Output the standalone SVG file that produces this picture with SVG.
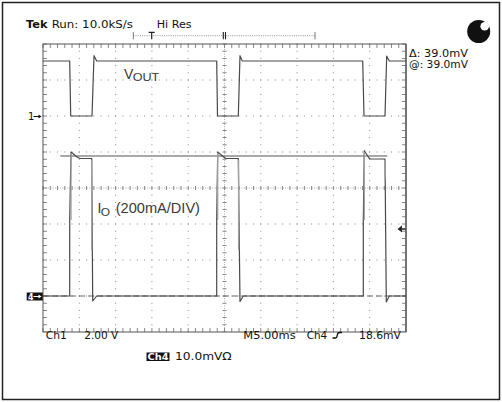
<svg xmlns="http://www.w3.org/2000/svg" width="502" height="402" viewBox="0 0 502 402">
  <style>
    .t { font-family: "DejaVu Sans", "Liberation Sans", sans-serif; font-size: 10px; fill: #111; }
    .lbl { font-family: "Liberation Sans", Arial, sans-serif; fill: #3a3a3a; }
    .dotx { stroke: #888; stroke-width: 1; stroke-dasharray: 1 6.26; fill: none; }
    .doty { stroke: #888; stroke-width: 1; stroke-dasharray: 1 6.2; fill: none; }
    .tickx { stroke: #888; stroke-width: 4; stroke-dasharray: 1 6.26; fill: none; }
    .ticky { stroke: #888; stroke-width: 4; stroke-dasharray: 1 6.2; fill: none; }
    .trace { fill: none; stroke: #4a4a4a; stroke-width: 1.2; stroke-linejoin: round; }
    .light { fill: none; stroke: #a0a0a0; stroke-width: 1.3; }
  </style>

  <!-- outer frame -->
  <rect id="frame" x="2.5" y="2.5" width="497" height="397" fill="#fff" stroke="#222" stroke-width="1.5"/>

  <!-- graticule -->
  <g id="graticule">
    <path class="doty" d="M79.3,43.5 V332 M115.6,43.5 V332 M151.9,43.5 V332 M188.2,43.5 V332 M260.8,43.5 V332 M297.1,43.5 V332 M333.4,43.5 V332 M369.7,43.5 V332"/>
    <path class="dotx" d="M42.5,80 H406 M42.5,116 H406 M42.5,152 H406 M42.5,224 H406 M42.5,260 H406 M42.5,296 H406"/>
    <path d="M43,188 H406 M224.5,44 V332" stroke="#aaa" stroke-width="1" stroke-dasharray="1 1.42" fill="none"/>
    <path class="tickx" d="M42.5,188 H406"/>
    <path class="ticky" d="M224.5,43.5 V332"/>
    <path class="tickx" d="M42.5,46 H406 M42.5,330 H406"/>
    <path class="ticky" d="M45,43.5 V332 M404,43.5 V332"/>
    <rect x="43" y="44" width="363" height="288" fill="none" stroke="#555" stroke-width="1"/>
    <path d="M406,44 V332" stroke="#666" stroke-width="1.5"/>
  </g>

  <!-- cursors -->
  <g id="cursors">
    <path d="M60.3,156 H387.3" stroke="#555" stroke-width="1.1" fill="none"/>
    <path d="M43,296 H406" stroke="#666" stroke-width="1.1" stroke-dasharray="6 3" fill="none"/>
  </g>

  <!-- traces -->
  <g id="traces">
    <path id="vout" class="trace" d="M43,61 H69.7 L70.7,116 H92 L94,55.7 L96.7,61 H216.7 L217.5,116 H238.3 L240,55.7 L242.3,61 H362.7 L364,116 H385 L386.7,56 L389.3,61 H406"/>
    <path id="io" class="trace" d="M43,296 H69.7 V220 L71,152 L77.3,157.3 L80,158.5 H91.7 L92.7,301 L96.7,296 H216.7 V220 L217.7,152 L224,157.3 L226,158.5 H238.3 L240,301.5 L243.3,296 H363.3 V220 L364.3,150.7 L369,158 L370,159 H385 L386.3,302 L389.3,296 H406"/>
    <path class="light" d="M71,220 V153 M91.7,160 V250 M217.7,220 V153 M238.6,160 V250 M364.3,220 V152 M385,160 V178"/>
  </g>

  <!-- channel markers -->
  <g id="marker-1">
    <text class="t" x="28" y="120" font-size="8">1</text>
    <path d="M33.5,116.5 H40" stroke="#111" stroke-width="1"/>
    <path d="M41.5,116.5 L38.5,114.5 L38.5,118.5 Z" fill="#111"/>
  </g>
  <g id="marker-4">
    <rect x="26.7" y="292.5" width="16" height="8" fill="#111"/>
    <text x="28" y="299.6" font-family="DejaVu Sans, sans-serif" font-size="8" font-weight="bold" fill="#fff">4</text>
    <path d="M33.5,296.5 H39.5" stroke="#fff" stroke-width="1"/>
    <path d="M41.5,296.5 L38.5,294.5 L38.5,298.5 Z" fill="#fff"/>
  </g>
  <g id="trigger-level">
    <path d="M397.5,229 L402,225.5 L402,232.5 Z" fill="#222"/>
    <path d="M401.5,229 H406" stroke="#555" stroke-width="2"/>
  </g>

  <!-- trigger position bar -->
  <g id="trigger-bar">
    <path d="M133.3,35.7 H315" stroke="#777" stroke-width="0.8" stroke-dasharray="1 1.2" fill="none"/>
    <path d="M133.3,32 V39.3 M315,32 V39.3" stroke="#555" stroke-width="0.8"/>
    <path d="M148.7,32.3 H154.7 M151.7,32.3 V39.3" stroke="#222" stroke-width="1.2"/>
    <path d="M223.3,32 V39.3 M225.5,32 V39.3" stroke="#222" stroke-width="1.1"/>
  </g>

  <!-- acquisition indicator -->
  <g id="indicator">
    <circle cx="478.7" cy="31.5" r="11.5" fill="#111"/>
    <circle cx="484.7" cy="26.3" r="4.3" fill="#fff"/>
  </g>

  <!-- header / readouts -->
  <g id="header">
    <text class="t" x="26" y="28.3" font-weight="bold" textLength="21.5" lengthAdjust="spacingAndGlyphs">Tek</text>
    <text class="t" x="51.7" y="28.3" textLength="81.3" lengthAdjust="spacingAndGlyphs">Run: 10.0kS/s</text>
    <text class="t" x="156.7" y="28.3" textLength="35" lengthAdjust="spacingAndGlyphs">Hi Res</text>
    <text class="t" x="409" y="57.3" textLength="59" lengthAdjust="spacingAndGlyphs">Δ: 39.0mV</text>
    <text class="t" x="409" y="68.3" textLength="59" lengthAdjust="spacingAndGlyphs">@: 39.0mV</text>
  </g>
  <g id="footer">
    <text class="t" x="45.7" y="339" textLength="21" lengthAdjust="spacingAndGlyphs">Ch1</text>
    <text class="t" x="84.3" y="339" textLength="34" lengthAdjust="spacingAndGlyphs">2.00 V</text>
    <text class="t" x="243.3" y="339" textLength="52.4" lengthAdjust="spacingAndGlyphs">M5.00ms</text>
    <text class="t" x="306.7" y="339" textLength="20.6" lengthAdjust="spacingAndGlyphs">Ch4</text>
    <path d="M332.5,338 H335.5 Q337,338 337.3,335 Q337.7,332.5 339.5,332.5 H342" stroke="#111" stroke-width="1.3" fill="none"/>
    <text class="t" x="359" y="339" textLength="42" lengthAdjust="spacingAndGlyphs">18.6mV</text>
    <rect x="146.5" y="352.5" width="23" height="8.5" fill="#111"/>
    <text x="147.5" y="360.3" font-family="DejaVu Sans, sans-serif" font-size="9" font-weight="bold" fill="#fff" textLength="21" lengthAdjust="spacingAndGlyphs">Ch4</text>
    <text class="t" x="175" y="360.3" textLength="56.7" lengthAdjust="spacingAndGlyphs">10.0mVΩ</text>
  </g>

  <!-- waveform labels -->
  <g id="label-vout">
    <text class="lbl" x="124" y="79.3" font-size="14">V</text>
    <text class="lbl" x="132.7" y="80.7" font-size="11.5" textLength="26.6" lengthAdjust="spacingAndGlyphs">OUT</text>
  </g>
  <g id="label-io">
    <text class="lbl" x="97.5" y="213.3" font-size="14">I</text>
    <text class="lbl" x="100.7" y="216" font-size="11.5" textLength="9.3" lengthAdjust="spacingAndGlyphs">O</text>
    <text class="lbl" x="115.7" y="213.3" font-size="14.5" textLength="84.3" lengthAdjust="spacingAndGlyphs">(200mA/DIV)</text>
  </g>
</svg>
